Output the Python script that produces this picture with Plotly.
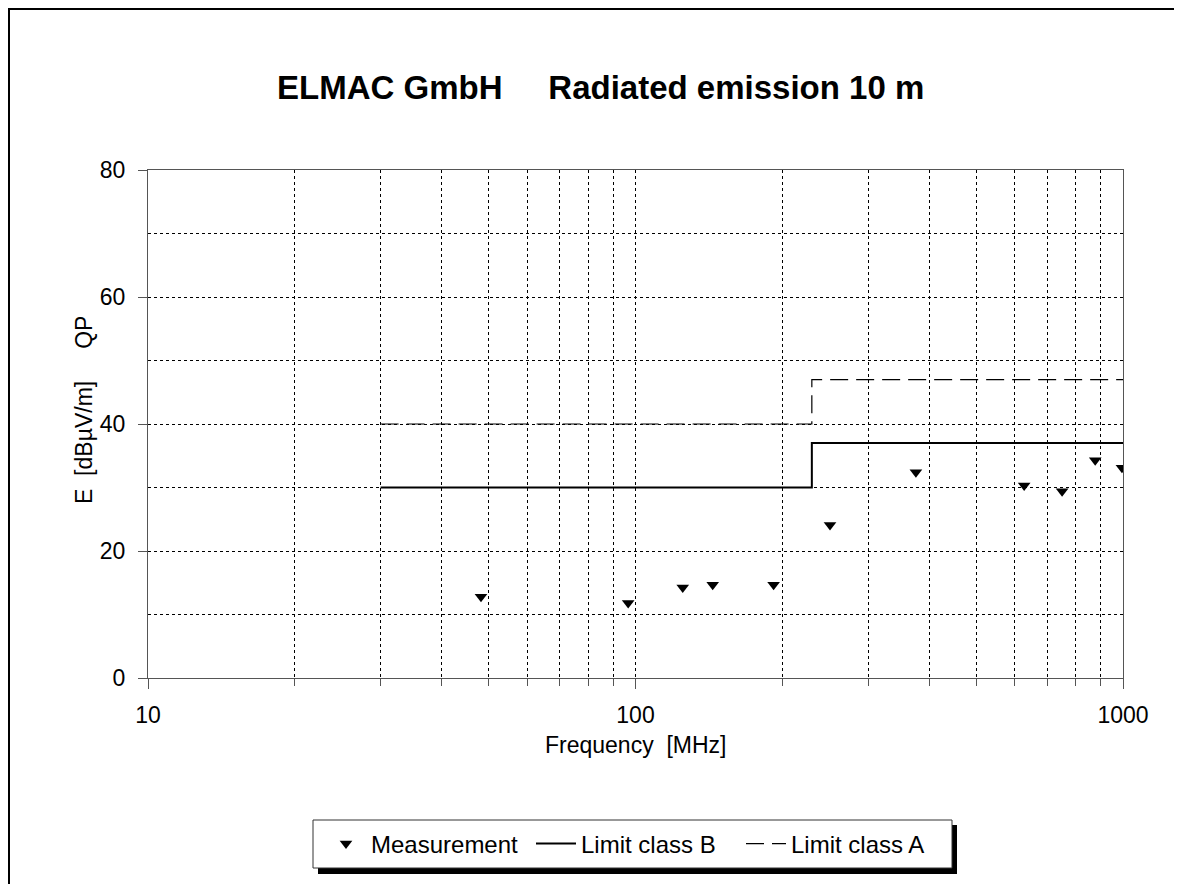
import plotly.graph_objects as go

# Data
meas_freq = [48.2, 96.6, 125, 144, 192, 250.6, 376, 627, 750, 877, 995]
meas_level = [12.8, 11.8, 14.25, 14.7, 14.7, 24.1, 32.4, 30.3, 29.4, 34.3, 33.1]
limB_freq = [30, 230, 230, 1000]
limB_level = [30, 30, 37, 37]
limA_freq = [30, 230, 230, 1000]
limA_level = [40, 40, 47, 47]
x_major = [10, 100, 1000]
x_minor = [20, 30, 40, 50, 60, 70, 80, 90, 200, 300, 400, 500, 600, 700, 800, 900]
y_major = [0, 20, 40, 60, 80]
y_minor = [10, 30, 50, 70]

FONT = "Liberation Sans, Arial, sans-serif"
W, H = 1182, 884
OFF = 8  # page body margin
L, T = 148 - OFF, 170 - OFF
PW, PH = 975, 508
R, B = W - L - PW, H - T - PH

def px(xp):
    return (xp - 148) / PW

def py(yp):
    return (678 - yp) / PH

fig = go.Figure()
fig.add_trace(go.Scatter(x=meas_freq, y=meas_level, mode="markers", name="Measurement",
                         marker=dict(symbol="triangle-down", size=11, color="black")))
fig.add_trace(go.Scatter(x=limB_freq, y=limB_level, mode="lines", name="Limit class B",
                         line=dict(color="black", width=2)))
fig.add_trace(go.Scatter(x=limA_freq, y=limA_level, mode="lines", name="Limit class A",
                         line=dict(color="black", width=1.2, dash="18px,8px")))

gridc = "#000000"
fig.update_xaxes(type="log", range=[1, 3], tickvals=x_major, ticktext=[str(v) for v in x_major],
                 ticks="outside", ticklen=10, tickcolor="#555", showline=True, linecolor="#555",
                 mirror=True, showgrid=True, gridcolor=gridc, griddash="3px,3px", gridwidth=1,
                 ticklabelstandoff=6,
                 tickfont=dict(family=FONT, size=23, color="black"), zeroline=False,
                 minor=dict(tickvals=x_minor, ticks="outside", ticklen=7, tickcolor="#555",
                            showgrid=True, gridcolor=gridc, griddash="3px,3px", gridwidth=1))
fig.update_yaxes(range=[0, 80], tickvals=y_major, ticks="outside", ticklen=9, tickcolor="#555",
                 showline=True, linecolor="#555", mirror=True, showgrid=True, gridcolor=gridc,
                 griddash="3px,3px", gridwidth=1, zeroline=False, ticklabelstandoff=8,
                 tickfont=dict(family=FONT, size=23, color="black"),
                 minor=dict(tickvals=y_minor, ticks="", showgrid=True, gridcolor=gridc,
                            griddash="3px,3px", gridwidth=1))

shapes = [
    # outer border
    dict(type="rect", xref="paper", yref="paper", x0=px(9), x1=px(1200), y0=py(9), y1=py(920),
         line=dict(color="black", width=2), fillcolor="rgba(0,0,0,0)", layer="below"),
    # legend shadow
    dict(type="rect", xref="paper", yref="paper", x0=px(318), x1=px(957), y0=py(825), y1=py(874),
         line=dict(width=0), fillcolor="black", layer="above"),
    # legend box
    dict(type="rect", xref="paper", yref="paper", x0=px(313), x1=px(952), y0=py(820), y1=py(868),
         line=dict(color="#333", width=1), fillcolor="white", layer="above"),
]

annotations = [
    dict(text="ELMAC GmbH     Radiated emission 10 m", xref="paper", yref="paper",
         x=px(600), y=py(87), showarrow=False, xanchor="center", yanchor="middle",
         font=dict(family=FONT, size=33, color="black", weight="bold")),
    dict(text="E  [dBµV/m]     QP", xref="paper", yref="paper", x=px(84), y=py(410),
         textangle=-90, showarrow=False, xanchor="center", yanchor="middle",
         font=dict(family=FONT, size=23, color="black")),
    dict(text="Frequency  [MHz]", xref="paper", yref="paper", x=px(636), y=py(745),
         showarrow=False, xanchor="center", yanchor="middle",
         font=dict(family=FONT, size=23, color="black")),
]

fig.update_layout(
    width=W, height=H, margin=dict(l=L, r=R, t=T, b=B, autoexpand=False),
    paper_bgcolor="white", plot_bgcolor="white",
    shapes=shapes, annotations=annotations,
    showlegend=True,
    legend=dict(orientation="h", x=px(321), y=py(844), xanchor="left", yanchor="middle",
                bgcolor="rgba(0,0,0,0)", borderwidth=0, entrywidth=155,
                font=dict(family=FONT, size=24, color="black"), itemwidth=40),
)

fig.write_html("out.html")
